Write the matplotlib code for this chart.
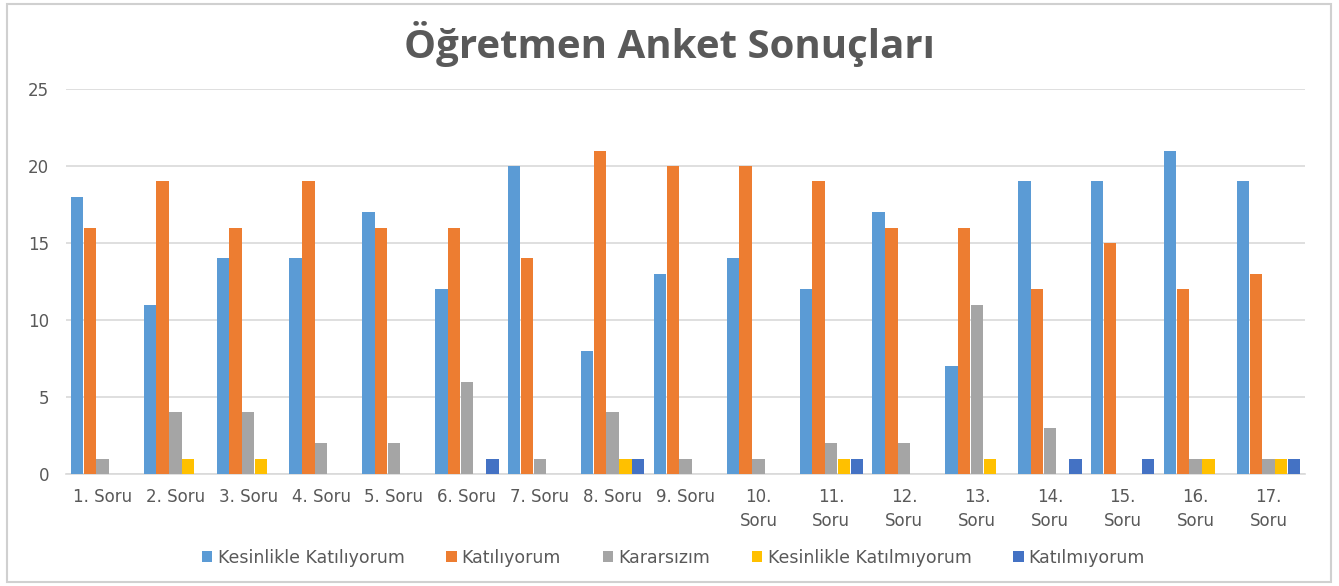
"""Öğretmen Anket Sonuçları - grouped bar chart. Output: out.png"""
import matplotlib
matplotlib.use("Agg")
import matplotlib.pyplot as plt
import numpy as np
from matplotlib.patches import Rectangle

CATEGORIES = [f"{i}. Soru" if i < 10 else f"{i}.\nSoru" for i in range(1, 18)]

SERIES_NAMES = [
    "Kesinlikle Katılıyorum",
    "Katılıyorum",
    "Kararsızım",
    "Kesinlikle Katılmıyorum",
    "Katılmıyorum",
]
kesinlikle_katiliyorum = [18, 11, 14, 14, 17, 12, 20, 8, 13, 14, 12, 17, 7, 19, 19, 21, 19]
katiliyorum = [16, 19, 16, 19, 16, 16, 14, 21, 20, 20, 19, 16, 16, 12, 15, 12, 13]
kararsizim = [1, 4, 4, 2, 2, 6, 1, 4, 1, 1, 2, 2, 11, 3, 0, 1, 1]
kesinlikle_katilmiyorum = [0, 1, 1, 0, 0, 0, 0, 1, 0, 0, 1, 0, 1, 0, 0, 1, 1]
katilmiyorum = [0, 0, 0, 0, 0, 1, 0, 1, 0, 0, 1, 0, 0, 1, 1, 0, 1]

COLORS = ["#5B9BD5", "#ED7D31", "#A5A5A5", "#FFC000", "#4472C4"]
TEXT = "#595959"
GRID = "#D9D9D9"


def main():
    series = [kesinlikle_katiliyorum, katiliyorum, kararsizim,
              kesinlikle_katilmiyorum, katilmiyorum]

    fig = plt.figure(figsize=(13.39, 5.86), dpi=100)
    fig.patch.set_facecolor("white")
    # outer frame of the chart area
    fig.add_artist(Rectangle((0.005, 0.006), 0.989, 0.988, transform=fig.transFigure,
                             facecolor="none", edgecolor="#D0D0D0", linewidth=1.5))

    ax = fig.add_axes([0.0493, 0.1911, 0.9253, 0.657])
    x = np.arange(len(CATEGORIES))
    width = 0.17
    for i, (name, vals, color) in enumerate(zip(SERIES_NAMES, series, COLORS)):
        offs = (i - 2) * (width + 0.005)
        ax.bar(x + offs, vals, width=width, color=color, label=name, zorder=3)

    ax.set_xlim(-0.5, len(CATEGORIES) - 0.5)
    ax.set_ylim(0, 25)
    ax.set_yticks([0, 5, 10, 15, 20, 25])
    ax.yaxis.grid(True, color=GRID, linewidth=1.2, zorder=0)
    ax.set_axisbelow(True)
    for side in ("top", "right", "left"):
        ax.spines[side].set_visible(False)
    ax.spines["bottom"].set_color(GRID)
    ax.spines["bottom"].set_linewidth(1.2)

    ax.set_xticks(x)
    ax.set_xticklabels(CATEGORIES, fontsize=12, color=TEXT, family="DejaVu Sans",
                       linespacing=1.45, va="top")
    ax.tick_params(axis="x", length=0, pad=10)
    ax.tick_params(axis="y", length=0, pad=12, labelsize=12, labelcolor=TEXT)

    fig.text(0.5, 0.925, "Öğretmen Anket Sonuçları", ha="center", va="center",
             fontsize=29, fontweight="bold", color=TEXT, family="Open Sans")

    leg = fig.legend(loc="center", bbox_to_anchor=(0.503, 0.048), ncol=5, frameon=False,
                     handlelength=0.6, handleheight=0.6,
                     handletextpad=0.3, columnspacing=2.4,
                     prop={"family": ["Liberation Sans Narrow", "DejaVu Sans"], "size": 12.5})
    for t in leg.get_texts():
        t.set_color(TEXT)

    fig.savefig("out.png", dpi=100, facecolor="white")


if __name__ == "__main__":
    main()
